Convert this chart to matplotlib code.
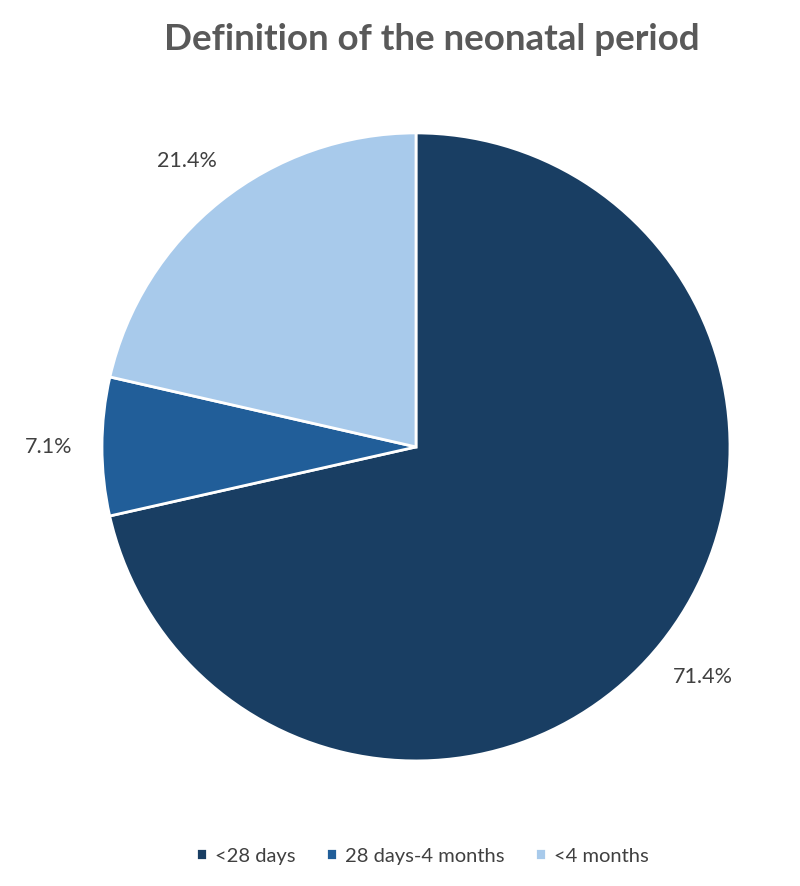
import matplotlib.pyplot as plt

categories = ['<28 days', '28 days-4 months', '<4 months']
values = [71.4, 7.1, 21.4]
colors = ['#193e63', '#215e99', '#a8caeb']

plt.rcParams['font.family'] = ['Lato', 'DejaVu Sans']

fig = plt.figure(figsize=(8, 8.87), dpi=100)
ax = fig.add_axes([0.1275, 0.141, 0.785, 0.708])

wedges, texts = ax.pie(values, colors=colors, startangle=90, counterclock=False,
                       labels=[f'{v:.1f}%' for v in values], labeldistance=1.17,
                       wedgeprops={'edgecolor': 'white', 'linewidth': 2},
                       textprops={'color': '#404040', 'fontsize': 15.5})
for t in texts:
    t.set_horizontalalignment('center')
ax.set_xlim(-1, 1)
ax.set_ylim(-1, 1)
ax.set_aspect('equal')

fig.text(0.54, 0.956, 'Definition of the neonatal period', ha='center', va='center',
         fontsize=26.5, fontweight='bold', color='#595959')

fig.legend(wedges, categories, loc='center', bbox_to_anchor=(0.528, 0.034), ncol=3,
           frameon=False, fontsize=14.5, labelcolor='#404040', handlelength=0.55,
           handleheight=0.55, handletextpad=0.4, columnspacing=1.5)

fig.savefig('out.png', dpi=100)
